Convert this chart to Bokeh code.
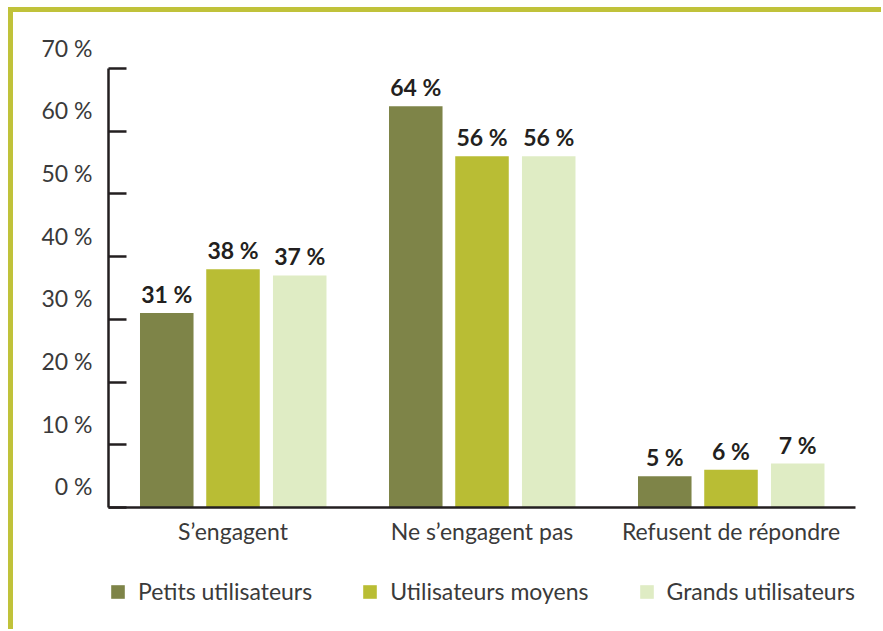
from bokeh.plotting import figure
from bokeh.layouts import column
from bokeh.models import (ColumnDataSource, FactorRange, Range1d, LinearAxis, FixedTicker,
                          PrintfTickFormatter, Legend, LegendItem, LabelSet)
from bokeh.transform import dodge
from bokeh.core.properties import value
from bokeh.embed import file_html
from bokeh.resources import INLINE

categories = ["S\u2019engagent", "Ne s\u2019engagent pas", "Refusent de r\u00e9pondre"]
series = ["Petits utilisateurs", "Utilisateurs moyens", "Grands utilisateurs"]
petits = [31, 64, 5]
moyens = [38, 56, 6]
grands = [37, 56, 7]
y_ticks = [0, 10, 20, 30, 40, 50, 60, 70]

colors = ["#7e8448", "#b9bd34", "#dfecc4"]
FONT = "Lato"
TEXT = "#3a3a3a"
DARK = "#231f20"
FS = "23px"

cols = ["petits", "moyens", "grands"]
data = dict(cat=categories, petits=petits, moyens=moyens, grands=grands)
for c in cols:
    data[c + "_lbl"] = [f"{v} %" for v in data[c]]
src = ColumnDataSource(data)

y_end = 74.47
shift = 3.35

p = figure(x_range=FactorRange(*categories), y_range=Range1d(0, y_end),
           width=868, height=548, output_backend="svg", toolbar_location=None,
           min_border_left=95, min_border_top=28, min_border_bottom=53, min_border_right=26)
p.outline_line_color = None
p.xgrid.grid_line_color = None
p.ygrid.grid_line_color = None
p.background_fill_color = "white"
p.border_fill_color = "white"

# main y axis: line + inward ticks, no labels
ya = p.yaxis[0]
ya.ticker = FixedTicker(ticks=y_ticks)
ya.bounds = (0, 70)
ya.major_tick_in = 18
ya.major_tick_out = 0
ya.minor_tick_line_color = None
ya.axis_line_width = 2.5
ya.axis_line_color = DARK
ya.major_tick_line_width = 2.5
ya.major_tick_line_color = DARK
ya.major_label_overrides = {t: "" for t in y_ticks}
ya.major_label_standoff = 0

# label axis, labels shifted upward
p.extra_y_ranges = {"lbl": Range1d(-shift, y_end - shift)}
la = LinearAxis(y_range_name="lbl", ticker=FixedTicker(ticks=y_ticks),
                formatter=PrintfTickFormatter(format="%d %%"),
                axis_line_color=None, major_tick_line_color=None, minor_tick_line_color=None,
                major_tick_in=0, major_tick_out=0, major_label_standoff=16,
                major_label_text_font=FONT, major_label_text_font_size=FS,
                major_label_text_color=TEXT)
p.add_layout(la, "left")

xa = p.xaxis[0]
xa.axis_line_width = 2.5
xa.axis_line_color = DARK
xa.major_tick_line_color = None
xa.major_tick_in = 0
xa.major_tick_out = 0
xa.major_label_standoff = 9
xa.major_label_text_font = FONT
xa.major_label_text_font_size = FS
xa.major_label_text_color = TEXT

offsets = [-0.266, 0.0, 0.268]
for c, off, col in zip(cols, offsets, colors):
    p.vbar(x=dodge("cat", off, range=p.x_range), top=c, width=0.215, source=src,
           fill_color=col, line_color=None)
    lbl = LabelSet(x=dodge("cat", off, range=p.x_range), y=c, text=c + "_lbl", source=src,
                   text_align="center", text_baseline="alphabetic", y_offset=10,
                   text_font=value(FONT), text_font_style="bold", text_font_size=FS,
                   text_color=DARK)
    p.add_layout(lbl)

# legend strip
pl = figure(width=868, height=69, output_backend="svg", toolbar_location=None,
            x_axis_location=None, y_axis_location=None, min_border=0)
pl.frame_align = False
pl.outline_line_color = None
pl.xgrid.grid_line_color = None
pl.ygrid.grid_line_color = None
items = []
for c, col, name in zip(cols, colors, series):
    r = pl.vbar(x=c, top=c, width=1, source=src, fill_color=col, line_color=None)
    r.visible = False
    items.append(LegendItem(label=name, renderers=[r]))
legend = Legend(items=items, orientation="horizontal", location=(96, 24),
                glyph_width=17, glyph_height=17, label_standoff=12, spacing=49,
                padding=0, margin=0, border_line_color=None, background_fill_alpha=0,
                inactive_fill_alpha=0,
                label_text_font=FONT, label_text_font_size=FS, label_text_color=TEXT)
pl.add_layout(legend, "center")

layout = column(p, pl, spacing=0)
layout.styles = {"border-top": "5px solid #c0c23a", "border-left": "5px solid #c0c23a",
                 "margin-left": "8px", "margin-top": "7px"}

open("out.html", "w").write(file_html(layout, INLINE))
